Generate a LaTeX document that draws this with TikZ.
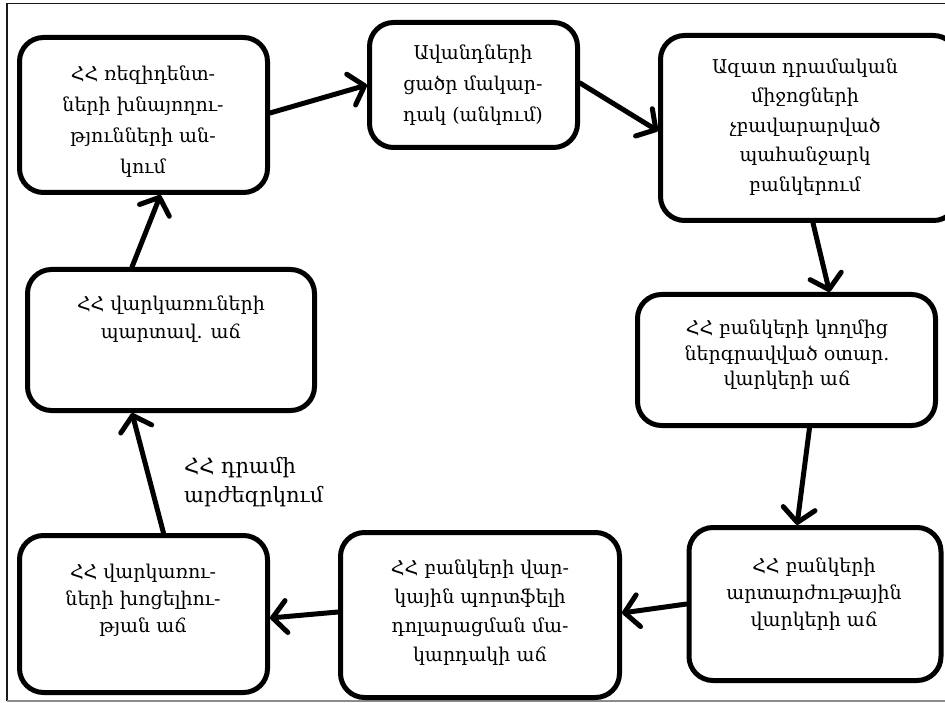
\documentclass[tikz,border=0pt]{standalone}
\usepackage{fontspec}
\setmainfont{DejaVu Serif}
\usetikzlibrary{arrows.meta}
\begin{document}
\begin{tikzpicture}[x=1pt,y=-1pt,
  box/.style={draw, line width=5pt, rounded corners=24pt, inner sep=0pt, fill=white},
  txt/.style={align=center, inner sep=0pt},
  arr/.style={line width=5pt, line cap=round, -{Straight Barb[length=14pt,width=32pt,round]}},
  frameline/.style={line width=1.8pt, draw=black!90}
]
\useasboundingbox (0,0) rectangle (945,703);
% frame
\coordinate (ftl) at (7,3.5);
\coordinate (ftr) at (950,3.5);
\coordinate (fbl) at (7,701);
\coordinate (fbr) at (950,701);
\draw[frameline] (ftr) -- (ftl) -- (fbl);
\draw[line width=1.6pt, draw=black!45] (fbl) -- (fbr);

% boxes
\node[box, minimum width=248pt, minimum height=155pt] (b1) at (143.5,115) {};
\node[box, minimum width=208pt, minimum height=125pt] (b2) at (473.5,85) {};
\node[box, minimum width=297pt, minimum height=185pt] (b3) at (809,128) {};
\node[box, minimum width=298pt, minimum height=131pt] (b4) at (786.5,360) {};
\node[box, minimum width=252pt, minimum height=153pt] (b5) at (815,604) {};
\node[box, minimum width=279pt, minimum height=165pt] (b6) at (480,615) {};
\node[box, minimum width=248pt, minimum height=157pt] (b7) at (143.5,614) {};
\node[box, minimum width=287pt, minimum height=141pt] (b8) at (171,340) {};

% texts
\node[txt, font=\fontsize{19}{31}\selectfont] (t1) at (143,122) {ՀՀ  ռեզիդենտ-\\ների խնայողու-\\թյունների ան-\\կում};
\node[txt, font=\fontsize{19}{31}\selectfont] (t2) at (473,85) {Ավանդների\\ցածր մակար-\\դակ (անկում)};
\node[txt, font=\fontsize{19}{29.5}\selectfont] (t3) at (805,127) {Ազատ դրամական\\միջոցների\\չբավարարված\\պահանջարկ\\բանկերում};
\node[txt, font=\fontsize{19}{25.5}\selectfont] (t4) at (787,355) {ՀՀ բանկերի կողմից\\ներգրավված օտար.\\վարկերի աճ};
\node[txt, font=\fontsize{19}{27}\selectfont] (t5) at (814,594) {ՀՀ բանկերի\\արտարժութային\\վարկերի աճ};
\node[txt, font=\fontsize{19}{29}\selectfont] (t6) at (480,613) {ՀՀ բանկերի վար-\\կային պորտֆելի\\դոլարացման մա-\\կարդակի աճ};
\node[txt, font=\fontsize{19}{27}\selectfont] (t7) at (143,600) {ՀՀ վարկառու-\\ների խոցելիու-\\թյան աճ};
\node[txt, font=\fontsize{19}{28}\selectfont] (t8) at (171,319) {ՀՀ վարկառուների\\պարտավ. աճ};
\node[txt, align=left, anchor=west, font=\fontsize{21}{29}\selectfont] (lab) at (184,482) {ՀՀ դրամի\\արժեզրկում};

% arrows
\draw[arr] ([yshift=2pt]b1.east) -- (b2.west);
\draw[arr] ([yshift=2pt]b2.east) -- ([yshift=-3pt]b3.west);
\draw[arr] ([xshift=4pt]b3.south) -- ([xshift=43pt]b4.north);
\draw[arr] ([xshift=23pt]b4.south) -- ([xshift=-18pt]b5.north);
\draw[arr] (b5.west) -- ([yshift=2pt]b6.east);
\draw[arr] ([yshift=3pt]b6.west) -- ([yshift=-4pt]b7.east);
\draw[arr] ([xshift=20pt]b7.north) -- ([xshift=-39pt]b8.south);
\draw[arr] ([xshift=-39pt]b8.north) -- ([xshift=17pt]b1.south);
\end{tikzpicture}
\end{document}
